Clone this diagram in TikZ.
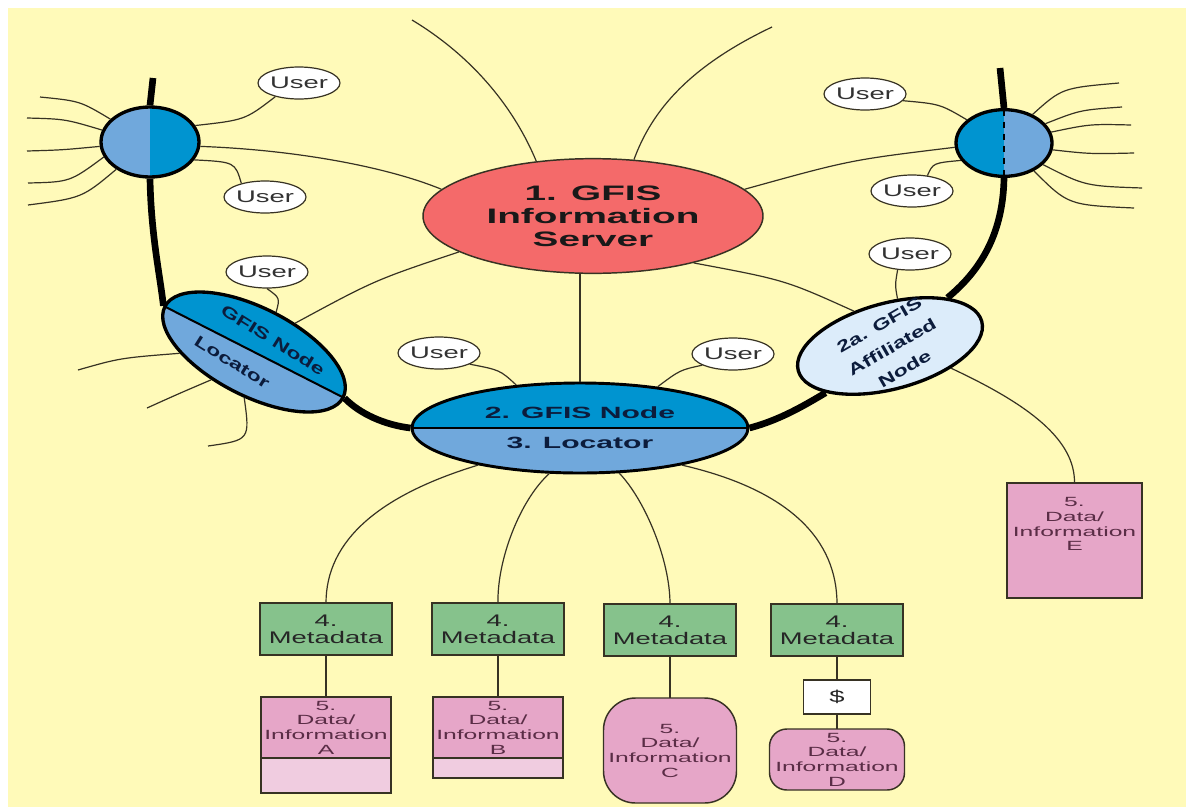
\documentclass[tikz,border=0pt]{standalone}
\usepackage{fontspec}
\setmainfont{Liberation Sans}[FakeStretch=1.85]
\newfontfamily\userfont{Liberation Sans}[FakeStretch=1.63]
\newfontfamily\tiltfont{Liberation Sans}[FakeStretch=1.45]
\usetikzlibrary{shapes.geometric,positioning}

\definecolor{bgyellow}{RGB}{255,250,185}
\definecolor{servred}{RGB}{244,106,106}
\definecolor{nodeblue}{RGB}{0,148,208}
\definecolor{locblue}{RGB}{112,168,220}
\definecolor{affblue}{RGB}{220,236,250}
\definecolor{metagreen}{RGB}{134,194,140}
\definecolor{datapink}{RGB}{230,166,200}
\definecolor{datalight}{RGB}{240,204,224}
\definecolor{wirecol}{RGB}{55,50,35}
\definecolor{nodetext}{RGB}{12,28,60}
\definecolor{datatext}{RGB}{90,45,70}
\definecolor{usertext}{RGB}{50,50,50}

\tikzset{every picture/.style={line width=0.75pt}}
\tikzset{
  wire/.style={draw=wirecol, line width=0.9pt},
  spine/.style={draw=black, line width=5pt},
  hub/.style={ellipse, draw=black, line width=2.5pt, inner sep=0pt, fill=locblue},
  user/.style={ellipse, draw=wirecol, fill=white, line width=0.9pt, minimum width=61.5pt, minimum height=24pt, inner sep=0pt, text=usertext, font=\userfont\fontsize{12.6}{13}\selectfont},
  meta/.style={rectangle, draw=wirecol, fill=metagreen, line width=1.1pt, minimum width=99pt, minimum height=39pt, inner sep=0pt, outer sep=0pt, align=center, text=black!85, font=\userfont\fontsize{12.6}{12.5}\selectfont},
  datbox/.style={rectangle, draw=wirecol, fill=datapink, line width=1.1pt, minimum width=97.5pt, inner sep=0pt, outer sep=0pt, align=center, text=datatext, font=\fontsize{10}{11}\selectfont},
  datlow/.style={datbox, fill=datalight},
  tilttext/.style={inner sep=0pt, align=center, text=nodetext, font=\tiltfont\bfseries\fontsize{12}{19}\selectfont},
}

\begin{document}
\begin{tikzpicture}[x=0.75pt,y=0.75pt,yscale=-1,xscale=1]
    \useasboundingbox (0,0) rectangle (1194,807);
    \fill[white] (0,0) rectangle (1194,807);
    \fill[bgyellow] (8,8) rectangle (1186,807);

    %Shape: Ellipse, split in two [GFIS Node / Locator]
    \begin{scope}[shift={(254,352)},rotate=27]
        \fill[locblue] (0,0) ellipse [x radius=100, y radius=44];
        \begin{scope}
            \clip (0,0) ellipse [x radius=100, y radius=44];
            \fill[nodeblue] (-102,-46) rectangle (102,0);
        \end{scope}
        \draw[line width=1.5pt] (-100,0) -- (100,0);
    \end{scope}
    \node[ellipse, draw=black, line width=2.5pt, inner sep=0pt, minimum width=150pt, minimum height=66pt, rotate=-27] (gnode) at (254,352) {};

    %Shape: Ellipse [server]
    \node[ellipse, draw=wirecol, fill=servred, line width=1.1pt, inner sep=0pt, minimum width=255pt, minimum height=86pt, align=center, text=black!90, font=\bfseries\fontsize{15.7}{17.3}\selectfont] (serv) at (593,216) {1. GFIS\\Information\\Server};

    %Shape: Ellipse [main node]
    \node[ellipse, draw=black, fill=nodeblue, line width=2.2pt, inner sep=0pt, minimum width=252pt, minimum height=67.5pt, align=center, text=nodetext, font=\bfseries\fontsize{12.2}{22.5}\selectfont,
        path picture={\fill[locblue] (path picture bounding box.west) rectangle (path picture bounding box.south east);
                      \draw[line width=1.2pt] (path picture bounding box.west) -- (path picture bounding box.east);}] (gfis) at (580,428) {2. GFIS Node\\3. Locator};

    %Shape: Circles at the ends
    \node[hub, minimum width=73.5pt, minimum height=52.5pt,
        path picture={\fill[nodeblue] (path picture bounding box.north) rectangle (path picture bounding box.south east);}] (lhub) at (150,142) {};
    \node[hub, minimum width=72pt, minimum height=50pt,
        path picture={\fill[nodeblue] (path picture bounding box.north west) rectangle (path picture bounding box.south);
                      \draw[line width=1pt, dash pattern=on 5pt off 4pt] (path picture bounding box.north) -- (path picture bounding box.south);}] (rhub) at (1004,143) {};

    %Shape: Ellipse [affiliated node]
    \node[ellipse, draw=black, fill=affblue, line width=2.5pt, inner sep=0pt, minimum width=142.5pt, minimum height=64.5pt, rotate=15] (aff) at (890,346) {};

    % Text Node
    \node[tilttext, rotate=-32] (gnodetxt) at (273,340) {GFIS Node};
    % Text Node
    \node[tilttext, rotate=-32] (gloctxt) at (232,362) {Locator};
    % Text Node
    \node[tilttext, rotate=30] (afftxt) at (892,347) {2a. GFIS\\Affiliated\\Node};

    %Shape: Ellipse [users]
    \node[user] (u1) at (299,83) {User};
    \node[user] (u2) at (265,197) {User};
    \node[user] (u3) at (267,272) {User};
    \node[user] (u4) at (439,353) {User};
    \node[user] (u5) at (733,354) {User};
    \node[user] (u6) at (865,94) {User};
    \node[user] (u7) at (912,191) {User};
    \node[user] (u8) at (910,254) {User};

    %Shape: Rectangle [metadata]
    \node[meta] (metaA) at (326,629) {4.\\Metadata};
    \node[meta] (metaB) at (498,629) {4.\\Metadata};
    \node[meta] (metaC) at (670,630) {4.\\Metadata};
    \node[meta] (metaD) at (837,630) {4.\\Metadata};

    %Shape: Rectangle [data]
    \node[datbox, minimum height=45.75pt, below=31.5pt of metaA] (dataA) {5.\\Data/\\Information\\A};
    \node[datlow, minimum height=26.25pt, below=0pt of dataA] (dataAb) {};
    \node[datbox, minimum height=45.75pt, below=31.5pt of metaB] (dataB) {5.\\Data/\\Information\\B};
    \node[datlow, minimum height=15pt, below=0pt of dataB] (dataBb) {};
    \node[datbox, minimum width=99.75pt, minimum height=78.75pt, rounded corners=24pt, below=31.5pt of metaC] (dataC) {5.\\Data/\\Information\\C};
    \node[meta, fill=white, minimum width=50pt, minimum height=25.5pt, below=18pt of metaD] (dollar) {\$};
    \node[datbox, minimum width=101.25pt, minimum height=45.75pt, rounded corners=13pt, below=11.25pt of dollar] (dataD) {5.\\Data/\\Information\\D};
    \node[datbox, minimum width=101.25pt, minimum height=86.25pt] (dataE) at (1074.5,540.5) {};
    % Text Node
    \node[datbox, draw=none, fill=none, below=11pt of dataE.north] (dataEtxt) {5.\\Data/\\Information\\E};

    %Free ends
    \coordinate (ltop) at (153,78);
    \coordinate (rtop) at (1000,68);
    \coordinate (stl) at (412,20);
    \coordinate (str) at (772,27);
    \coordinate (lw1) at (40,97);
    \coordinate (lw2) at (27,118);
    \coordinate (lw3) at (27,151);
    \coordinate (lw4) at (28,183);
    \coordinate (lw5) at (28,205);
    \coordinate (rw1) at (1119,83);
    \coordinate (rw2) at (1122,107);
    \coordinate (rw3) at (1131,125);
    \coordinate (rw4) at (1134,153);
    \coordinate (rw5) at (1142,188);
    \coordinate (rw6) at (1134,208);
    \coordinate (gw1) at (78,370);
    \coordinate (gw2) at (147,408);
    \coordinate (gw3) at (208,446);

    %Thick backbone
    \draw[spine] (ltop) -- (lhub.north);
    \draw[spine] (lhub.south) .. controls (151,235) and (160,275) .. (gnode.west);
    \draw[spine] (gnode.east) .. controls (360,414) and (385,425) .. (gfis.west);
    \draw[spine] (gfis.east) .. controls (780,420) and (805,405) .. (aff.201);
    \draw[spine] (aff.25) .. controls (975,275) and (1003,240) .. (rhub.south);
    \draw[spine] (rhub.north) -- (rtop);

    %Curve Lines [server]
    \draw[wire] (serv.136) .. controls (515,110) and (475,58) .. (stl);
    \draw[wire] (serv.54) .. controls (652,110) and (690,66) .. (str);
    \draw[wire] (lhub.-5) .. controls (300,150) and (390,168) .. (serv.170);
    \draw[wire] (serv.195) .. controls (375,280) .. (gnode.62);
    \draw[wire] (serv.10) .. controls (850,160) .. (rhub.185);
    \draw[wire] (serv.335) .. controls (785,280) .. (aff.121);
    \draw[wire] (gfis.north) -- (gfis.north |- serv.south);

    %Curve Lines [users]
    \draw[wire] (lhub.20) .. controls (245,120) .. (u1.210);
    \draw[wire] (lhub.-22) .. controls (235,162) .. (u2.150);
    \draw[wire] (u3.south) .. controls (280,298) .. (gnode.88);
    \draw[wire] (u4.-20) .. controls (500,370) .. (gfis.146);
    \draw[wire] (u5.200) .. controls (680,370) .. (gfis.28);
    \draw[wire] (u6.-10) .. controls (940,104) .. (rhub.148);
    \draw[wire] (u7.45) .. controls (933,163) .. (rhub.202);
    \draw[wire] (u8.232) .. controls (895,285) .. (aff.66);

    %Curve Lines [whiskers]
    \draw[wire] (lhub.150) .. controls (80,101) .. (lw1);
    \draw[wire] (lhub.166) .. controls (65,119) .. (lw2);
    \draw[wire] (lhub.185) .. controls (62,150) .. (lw3);
    \draw[wire] (lhub.198) .. controls (70,182) .. (lw4);
    \draw[wire] (lhub.219) .. controls (82,198) .. (lw5);
    \draw[wire] (rhub.45) .. controls (1062,88) .. (rw1);
    \draw[wire] (rhub.25) .. controls (1080,110) .. (rw2);
    \draw[wire] (rhub.13) .. controls (1090,124) .. (rw3);
    \draw[wire] (rhub.-8) .. controls (1090,154) .. (rw4);
    \draw[wire] (rhub.-29) .. controls (1085,186) .. (rw5);
    \draw[wire] (rhub.-43) .. controls (1068,205) .. (rw6);
    \draw[wire] (gnode.208) .. controls (120,358) .. (gw1);
    \draw[wire] (gnode.240) .. controls (178,394) .. (gw2);
    \draw[wire] (gnode.285) .. controls (250,440) .. (gw3);

    %Curve Lines [locator to metadata]
    \draw[wire] (gfis.200) .. controls (380,495) and (326,540) .. (metaA.north);
    \draw[wire] (gfis.236) .. controls (520,500) and (497,560) .. (metaB.north);
    \draw[wire] (gfis.311) .. controls (645,500) and (670,560) .. (metaC.north);
    \draw[wire] (gfis.340) .. controls (790,490) and (837,540) .. (metaD.north);
    \draw[wire] (aff.325) .. controls (1030,405) and (1075,440) .. (dataE.north);

    %Straight Lines
    \draw[wire] (metaA.south) -- (dataA.north);
    \draw[wire] (metaB.south) -- (dataB.north);
    \draw[wire] (metaC.south) -- (dataC.north);
    \draw[wire] (metaD.south) -- (dollar.north);
    \draw[wire] (dollar.south) -- (dataD.north);
\end{tikzpicture}
\end{document}
